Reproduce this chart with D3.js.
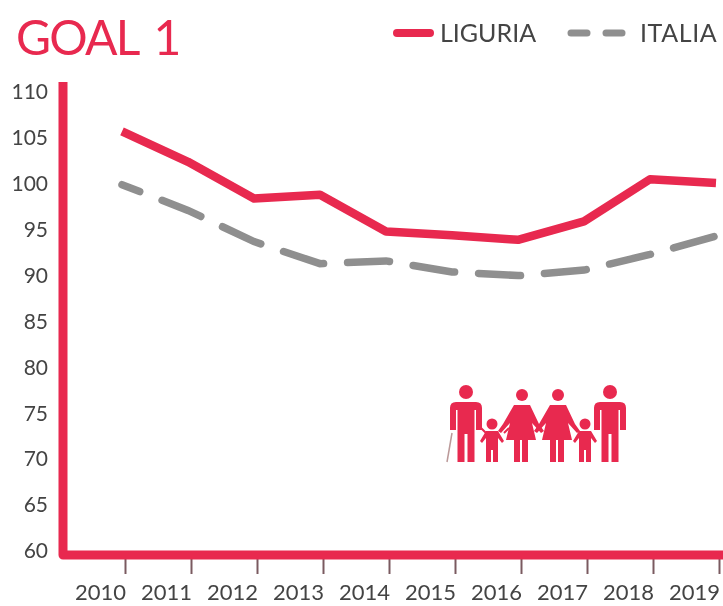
<!DOCTYPE html>
<html><head><meta charset="utf-8">
<script src="https://cdn.jsdelivr.net/npm/d3@7/dist/d3.min.js"></script>
<style>html,body{margin:0;padding:0;background:#fff}svg{display:block;filter:blur(0.7px)}</style>
</head><body><svg id="c" width="723" height="606"></svg>
<script>
const years=[2010,2011,2012,2013,2014,2015,2016,2017,2018,2019];
const yTicks=[60,65,70,75,80,85,90,95,100,105,110];
const liguria=[105.7,102.4,98.4,98.8,94.8,94.4,93.9,95.9,100.5,100.1];
const italia=[99.9,97.1,93.7,91.3,91.6,90.4,90.0,90.6,92.3,94.3];
const RED="#e8294f",GREY="#8f8f8f",TXT="#444444",FONT="Lato, 'Open Sans', sans-serif";
const svg=d3.select("#c");
const x=d3.scalePoint().domain(years).range([122,716]);
const y=d3.scaleLinear().domain([60,110]).range([551,92]);
const line=s=>d3.line().x((d,i)=>x(years[i])).y(d=>y(d))(s);

// axes
const yAxis=d3.axisLeft(y).tickValues(yTicks).tickSize(0).tickPadding(0);
const gy=svg.append("g").attr("transform","translate(48,0)").call(yAxis);
gy.select(".domain").remove();
gy.selectAll("text").attr("font-family",FONT).attr("font-size",21).attr("fill",TXT);

const xAxis=d3.axisBottom(x).tickSize(20).tickPadding(10).tickFormat(d3.format("d"));
const gx=svg.append("g").attr("transform","translate(3,554)").call(xAxis);
gx.select(".domain").remove();
gx.selectAll("line").attr("stroke","#7a5a60").attr("stroke-width",2);
gx.selectAll("text").attr("font-family",FONT).attr("font-size",22).attr("fill",TXT).attr("dx",-25);

svg.append("path").attr("d","M63,82V555H723").attr("fill","none").attr("stroke",RED).attr("stroke-width",9).attr("stroke-linejoin","round");

// lines
svg.append("path").attr("d",line(italia)).attr("fill","none").attr("stroke",GREY).attr("stroke-width",7.5).attr("stroke-linecap","round").attr("stroke-dasharray","42 24").attr("stroke-dashoffset",23);
svg.append("path").attr("d",line(liguria)).attr("fill","none").attr("stroke",RED).attr("stroke-width",8.5).attr("stroke-linejoin","round");

// title + legend
svg.append("text").text("GOAL 1").attr("x",16).attr("y",55).attr("font-family",FONT).attr("font-size",48).attr("letter-spacing",-1.8).attr("word-spacing",6).attr("fill",RED);
svg.append("line").attr("x1",397).attr("x2",430).attr("y1",33).attr("y2",33).attr("stroke",RED).attr("stroke-width",8).attr("stroke-linecap","round");
svg.append("text").text("LIGURIA").attr("x",440).attr("y",42).attr("font-family",FONT).attr("font-size",25).attr("fill",TXT);
svg.append("line").attr("x1",571).attr("x2",587).attr("y1",33).attr("y2",33).attr("stroke",GREY).attr("stroke-width",7).attr("stroke-linecap","round");
svg.append("line").attr("x1",606).attr("x2",622).attr("y1",33).attr("y2",33).attr("stroke",GREY).attr("stroke-width",7).attr("stroke-linecap","round");
svg.append("text").text("ITALIA").attr("x",640).attr("y",42).attr("font-family",FONT).attr("font-size",25).attr("letter-spacing",0.6).attr("fill",TXT);

// family pictogram (decoration)
const icon=svg.append("g").attr("fill",RED);
function man(cx){
  icon.append("circle").attr("cx",cx).attr("cy",392).attr("r",7);
  icon.append("path").attr("d",`M${cx-16},408q0,-6 6,-6h20q6,0 6,6v22h-6v-20h-1.5v22v30h-7v-28h-3v28h-7v-30v-22h-1.5v20h-6z`);
}
function woman(cx){
  icon.append("circle").attr("cx",cx).attr("cy",395).attr("r",6);
  icon.append("path").attr("d",`M${cx-8},405h16l9,19l5,7l-3,2l-9,-10l4,17h-8v22h-6v-22h-2v22h-6v-22h-8l4,-17l-9,10l-3,-2l5,-7z`);
}
function kid(cx){
  icon.append("circle").attr("cx",cx).attr("cy",424).attr("r",5.5);
  icon.append("path").attr("d",`M${cx-6},431h12l6,10l-2,2l-4,-5v12v12h-5v-12h-2v12h-5v-12v-12l-4,5l-2,-2z`);
}
man(466);kid(492);woman(522);woman(558);kid(585);man(610);
icon.append("path").attr("d","M452,433L447,462").attr("stroke","#b99").attr("stroke-width",1.5);
icon.append("path").attr("d","M481,428L488,435M504,433L509,428").attr("stroke",RED).attr("stroke-width",2);
</script></body></html>
